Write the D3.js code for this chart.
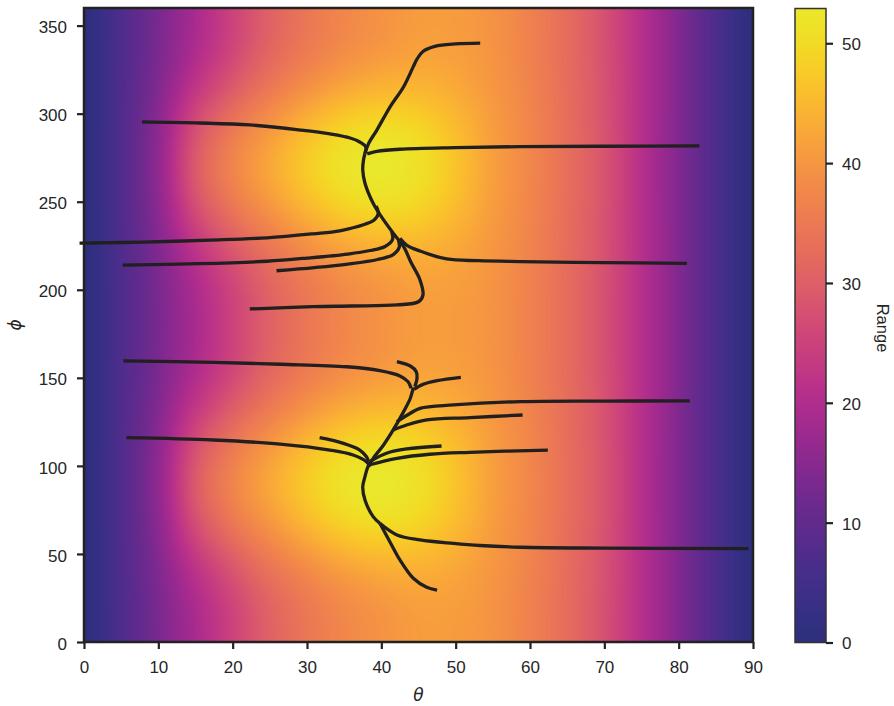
<!DOCTYPE html>
<html><head><meta charset="utf-8">
<script src="https://cdn.jsdelivr.net/npm/d3@7"></script>
<style>body{margin:0;background:#fff;}</style>
</head><body>
<svg id="chart" width="894" height="706"></svg>
<script>
// ---------------- data ----------------
const thetaGrid = [0,5,10,15,20,25,30,35,40,45,50,55,60,65,70,75,80,85,90];
const phiGrid = [0,15,30,45,60,75,90,105,120,135,150,165,180,195,210,225,240,255,270,285,300,315,330,345,360];
// range values read from the colour field (rows by phi, columns by theta)
const rowPhi0  = [0.5,7.0,13.0,19.0,25.0,30.5,34.5,37.5,39.5,41.0,41.0,39.5,36.5,32.5,27.5,21,14,7,0.5];
const rowPhi15 = [0.5,7.0,13.1,19.2,25.2,30.7,34.7,37.7,39.7,41.2,41.1,39.5,36.5,32.5,27.5,21,14,7,0.5];
const rowPhi30 = [0.5,7.1,13.4,20.3,26.5,32.0,36.1,39.3,41.2,42.3,41.7,39.8,36.6,32.6,27.6,21,14,7,0.5];
const rowPhi45 = [0.5,7.2,14.1,22.5,29.2,34.7,39.1,42.5,44.2,44.5,42.9,40.2,36.9,32.7,27.7,21,14,7,0.5];
const rowPhi60 = [0.5,7.3,15.0,25.5,32.8,38.3,43.0,46.6,48.2,47.5,44.6,40.8,37.2,32.8,27.8,21,14,7,0.5];
const rowPhi75 = [0.5,7.5,15.7,28.0,35.8,41.3,46.2,50.1,51.6,50.0,46.0,41.3,37.4,33.0,28.0,21,14,7,0.5];
const rowPhi90 = [0.5,7.5,16.0,29.0,37.0,42.5,47.5,51.5,52.9,51.0,46.5,41.5,37.5,33.0,28.0,21,14,7,0.5];
const rangeRows = [rowPhi0,rowPhi15,rowPhi30,rowPhi45,rowPhi60,rowPhi75,rowPhi90,rowPhi75,rowPhi60,rowPhi45,rowPhi30,rowPhi15,
                   rowPhi0,rowPhi15,rowPhi30,rowPhi45,rowPhi60,rowPhi75,rowPhi90,rowPhi75,rowPhi60,rowPhi45,rowPhi30,rowPhi15,rowPhi0];
const rangeMax = 52.9;

// trajectories [theta, phi]
const pathTopUp    = [[53.3,340.1],[50.0,339.6],[47.2,338.2],[45.6,335.3],[44.8,331.0],[44.3,326.7],[43.0,315.3],[41.2,304.0],[39.4,290.7],[38.3,283.2],[37.8,277.5]];
const pathTopLeft  = [[7.8,295.3],[15.6,294.7],[22.3,293.6],[29.1,290.7],[33.1,288.5],[35.8,286.2],[37.1,283.9],[37.9,281.1],[37.8,277.5]];
const pathTopRight = [[82.8,281.7],[70.0,281.5],[58.7,281.3],[50.0,280.7],[42.5,279.8],[39.4,278.6],[38.1,277.2]];
const pathTopSpine = [[37.8,277.5],[37.6,273.7],[37.5,268.0],[37.8,260.5],[38.9,249.1],[40.0,241.5],[41.6,232.1],[43.0,224.5],[44.0,215.5],[45.2,205.6],[45.6,197.0],[45.0,193.2],[42.1,191.4],[36.0,190.8],[30.8,190.4],[22.3,189.1]];
const pathTopEdge  = [[39.3,247.5],[39.6,243.4],[39.0,239.5],[37.8,237.2],[34.4,233.5],[30.8,231.8],[24.6,229.5],[17.0,228.2],[8.0,227.1],[0,226.5],[-0.6,226.5]];
const pathTopMid   = [[41.4,233.0],[41.5,228.5],[40.5,224.6],[38.5,222.3],[35.5,220.3],[30.0,218.0],[24.6,216.2],[15.6,214.8],[5.2,214.0]];
const pathTopShort = [[42.3,228.3],[42.4,224.0],[41.6,220.0],[39.5,217.2],[35.5,214.6],[31.0,212.6],[25.9,210.8]];
const pathTopLow   = [[42.5,229.2],[43.4,225.4],[45.2,222.0],[48.8,217.5],[53.0,216.5],[58.7,216.0],[70.0,215.4],[81.1,215.0]];
const pathBotLeft  = [[5.3,159.6],[17.4,158.8],[26.4,157.7],[35.3,156.3],[39.8,154.1],[42.5,151.1],[43.6,147.8],[44.0,144.1]];
const pathBotHook  = [[42.1,159.2],[43.9,156.7],[44.7,153.5],[44.8,149.7],[44.5,145.0]];
const pathBotSpine = [[44.3,144.5],[43.9,138.4],[43.0,130.8],[41.6,120.4],[40.3,111.9],[38.9,104.3],[38.2,99.5],[37.8,93.9],[37.5,88.2],[37.8,80.6],[38.9,71.2],[39.8,67.4]];
const pathBotFar   = [[39.8,67.4],[42.1,60.8],[45.2,58.0],[49.7,56.0],[53.3,54.8],[58.7,53.8],[70.0,53.3],[89.4,53.0]];
const pathBotDown  = [[39.8,67.4],[41.2,56.5],[42.5,46.6],[44.3,36.2],[46.1,31.1],[47.5,29.5]];
const pathBotUpR   = [[44.4,143.5],[45.6,146.3],[47.5,148.4],[50.7,150.3]];
const pathBotLong  = [[42.1,125.1],[43.9,129.9],[45.2,132.7],[49.7,134.6],[58.7,136.5],[70.0,136.8],[81.5,136.9]];
const pathBotMid   = [[41.6,120.4],[43.4,123.2],[46.1,126.1],[51.9,127.4],[59.0,128.9]];
const pathBotShort = [[38.6,102.8],[40.7,107.2],[43.4,109.6],[48.1,111.3]];
const pathBotRight = [[38.3,100.5],[42.1,104.3],[46.5,106.6],[51.9,107.7],[62.4,109.0]];
const pathBotWest  = [[5.7,116.0],[17.4,114.7],[26.4,112.4],[33.1,109.0],[36.2,106.2],[38.0,102.4],[38.5,99.5]];
const pathBotCurl  = [[31.7,116.0],[34.9,112.8],[37.1,109.0],[38.0,105.2],[38.3,102.4]];
const trajectories = [pathTopUp,pathTopLeft,pathTopRight,pathTopSpine,pathTopEdge,pathTopMid,pathTopShort,pathTopLow,
  pathBotLeft,pathBotHook,pathBotSpine,pathBotFar,pathBotDown,pathBotUpR,pathBotLong,pathBotMid,pathBotShort,pathBotRight,pathBotWest,pathBotCurl];

const xTicks = [0,10,20,30,40,50,60,70,80,90];
const yTicks = [0,50,100,150,200,250,300,350];
const cTicks = [0,10,20,30,40,50];

// colour map stops (muted plasma as in the picture)
const cmapPos = [0,0.05,0.10,0.15,0.20,0.25,0.30,0.35,0.40,0.45,0.50,0.55,0.60,0.65,0.70,0.75,0.80,0.85,0.90,0.95,1.0];
const cmapHex = ['#2c2f7c','#362f84','#432e89','#532c8c','#652a8d','#7a298f','#90298f','#a52a8e','#b8308a','#c63c80','#d14a76',
                 '#db5a6b','#e3685f','#ea7656','#f0844c','#f59343','#f9a53a','#fab830','#f8cb27','#f1dd25','#eae82c'];

// ---------------- drawing ----------------
const svg = d3.select('#chart');
const FONT = '"Liberation Sans", Arial, Helvetica, sans-serif';
const INK = '#222222';
const x = d3.scaleLinear().domain([0,90]).range([84,753]);
const y = d3.scaleLinear().domain([0,360]).range([642,8]);
const color = d3.scaleLinear().domain(cmapPos.map(p => p*rangeMax)).range(cmapHex).interpolate(d3.interpolateRgb).clamp(true);

// heat field
const cw = Math.round(x(90)-x(0)), ch = Math.round(y(0)-y(360));
const canvas = document.createElement('canvas'); canvas.width = cw; canvas.height = ch;
const ctx = canvas.getContext('2d');
const img = ctx.createImageData(cw, ch);
const lut = d3.range(1024).map(i => d3.rgb(color(i/1023*rangeMax)));
const nT = thetaGrid.length, nP = phiGrid.length;
const dT = thetaGrid[1]-thetaGrid[0], dP = phiGrid[1]-phiGrid[0];
function val(i,j){ i=Math.max(0,Math.min(nT-1,i)); j=Math.max(0,Math.min(nP-1,j)); return rangeRows[j][i]; }
function cr(p0,p1,p2,p3,t){ return 0.5*(2*p1+(-p0+p2)*t+(2*p0-5*p1+4*p2-p3)*t*t+(-p0+3*p1-3*p2+p3)*t*t*t); }
function field(th,ph){
  const gx=(th-thetaGrid[0])/dT, gy=(ph-phiGrid[0])/dP;
  const i=Math.floor(gx), j=Math.floor(gy), tx=gx-i, ty=gy-j;
  const cols=[];
  for(let m=-1;m<=2;m++) cols.push(cr(val(i-1,j+m),val(i,j+m),val(i+1,j+m),val(i+2,j+m),tx));
  return cr(cols[0],cols[1],cols[2],cols[3],ty);
}
for(let py=0;py<ch;py++){
  const ph = y.invert(y(360)+py+0.5);
  for(let px=0;px<cw;px++){
    const th = x.invert(x(0)+px+0.5);
    const v = field(th,ph);
    const k = Math.round(Math.max(0,Math.min(1,v/rangeMax))*1023);
    const c = lut[k], o=(py*cw+px)*4;
    img.data[o]=c.r; img.data[o+1]=c.g; img.data[o+2]=c.b; img.data[o+3]=255;
  }
}
ctx.putImageData(img,0,0);
svg.append('image').attr('href',canvas.toDataURL()).attr('x',x(0)).attr('y',y(360))
  .attr('width',cw).attr('height',ch).attr('preserveAspectRatio','none');

// trajectories
const line = d3.line().x(d=>x(d[0])).y(d=>y(d[1])).curve(d3.curveCatmullRom.alpha(0.5));
svg.append('g').selectAll('path').data(trajectories).join('path')
  .attr('d',line).attr('fill','none').attr('stroke','#211f1f').attr('stroke-width',3.3)
  .attr('stroke-linejoin','round');

// frame
svg.append('rect').attr('x',x(0)).attr('y',y(360)).attr('width',x(90)-x(0)).attr('height',y(0)-y(360))
  .attr('fill','none').attr('stroke',INK).attr('stroke-width',2.5);

// axes
function styleAxis(g){
  g.attr('font-size',17).attr('font-family',FONT);
  g.select('.domain').remove();
  g.selectAll('.tick line').attr('stroke',INK).attr('stroke-width',2.2);
  g.selectAll('.tick text').attr('fill','#262626');
}
svg.append('g').attr('transform',`translate(0,${y(0)})`)
  .call(d3.axisBottom(x).tickValues(xTicks).tickSize(7).tickPadding(12)).call(styleAxis);
const gy = svg.append('g').attr('transform',`translate(${x(0)},0)`)
  .call(d3.axisLeft(y).tickValues(yTicks).tickSize(7).tickPadding(10)).call(styleAxis);
gy.selectAll('.tick text').attr('dy','0.42em');

svg.append('text').attr('x',(x(0)+x(90))/2).attr('y',701).attr('text-anchor','middle')
  .attr('font-family','"DejaVu Sans", sans-serif').attr('font-style','italic').attr('font-size',17).attr('fill','#262626').text('θ');
svg.append('text').attr('transform',`translate(21,${(y(0)+y(360))/2}) rotate(-90)`).attr('text-anchor','middle')
  .attr('font-family','"DejaVu Sans", sans-serif').attr('font-style','italic').attr('font-size',17).attr('fill','#262626').text('ϕ');

// colorbar
const cb = {x0:795, w:31};
const cy = d3.scaleLinear().domain([0,rangeMax]).range([642.5,8.5]);
const defs = svg.append('defs');
const grad = defs.append('linearGradient').attr('id','cbgrad').attr('x1',0).attr('y1',1).attr('x2',0).attr('y2',0);
d3.range(0,1.0001,0.02).forEach(t => grad.append('stop').attr('offset',t).attr('stop-color',color(t*rangeMax)));
svg.append('rect').attr('x',cb.x0).attr('y',cy(rangeMax)).attr('width',cb.w).attr('height',cy(0)-cy(rangeMax))
  .attr('fill','url(#cbgrad)').attr('stroke','#333').attr('stroke-width',1.5);
const gc = svg.append('g').attr('transform',`translate(${cb.x0+cb.w},0)`)
  .call(d3.axisRight(cy).tickValues(cTicks).tickSize(7).tickPadding(9)).call(styleAxis);
gc.selectAll('.tick text').attr('dy','0.38em');
svg.append('text').attr('transform',`translate(877,328) rotate(90)`).attr('text-anchor','middle')
  .attr('font-family',FONT).attr('font-size',16.5).attr('fill','#262626').text('Range');
</script>
</body></html>
